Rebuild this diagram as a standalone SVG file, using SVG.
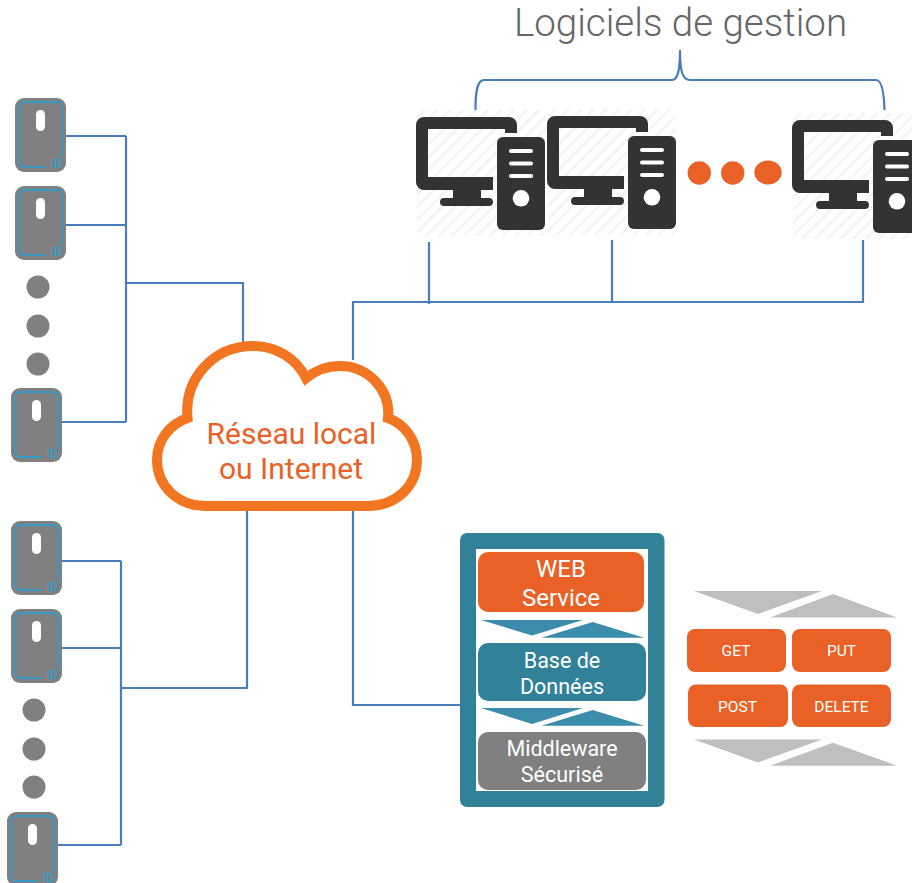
<svg xmlns="http://www.w3.org/2000/svg" width="912" height="883" viewBox="0 0 912 883">
<style>
text{font-family:Roboto,"Liberation Sans",sans-serif;text-anchor:middle}
.wire{fill:none;stroke:#4a7ebb;stroke-width:2.200}
.dev{fill:#808080}
.lt{fill:#fff}
.sl{font-size:21.500px;fill:#fff}
.btn{fill:#e96127}
.bt{font-size:15.500px;fill:#fff}
.cv{fill:#3b8dab}
.cg{fill:#bfbfbf}
.org{fill:#e96127}
.pc{fill:#333}
</style>
<defs>
<pattern id="hatch" width="9" height="9" patternUnits="userSpaceOnUse" patternTransform="rotate(-45)">
<rect width="9" height="9" fill="#fff"/><rect width="9" height="2.500" fill="#f3f3f3"/>
</pattern>
<g id="pcicon">
<rect x="1" y="-7" width="128" height="126" fill="url(#hatch)"/>
<path class="pc" fill-rule="evenodd" d="M8 0H93a8 8 0 0 1 8 8V16H89V12H12V60H77V73H65V81H73a4 4 0 0 1 0 8H28a4 4 0 0 1 0-8H37V73H8a8 8 0 0 1-8-8V8a8 8 0 0 1 8-8Z"/>
<rect class="pc" x="81" y="20" width="48" height="93" rx="6"/>
<rect class="lt" x="93" y="32" width="24" height="4" rx="2"/>
<rect class="lt" x="93" y="44.500" width="24" height="4" rx="2"/>
<rect class="lt" x="93" y="57" width="24" height="4" rx="2"/>
<circle class="lt" cx="105" cy="81.300" r="8.300"/>
</g>
<g id="devicon">
<rect class="dev" width="51" height="74" rx="9"/>
<path d="M30 69H9a5 5 0 0 1-5-5V9a5 5 0 0 1 5-5H42a5 5 0 0 1 5 5V60" fill="none" stroke="#1ca3dc" stroke-width="1.300"/>
<rect class="lt" x="21" y="12" width="9" height="21" rx="4.500"/>
<text x="41.500" y="70" font-size="12" fill="#1ca3dc">ID</text>
</g>
</defs>
<g id="connectors">
<path class="wire" d="M66 136H126M66 225H126M62 422H126M126 136V422M126 283H243V345"/>
<path class="wire" d="M62 561H121M62 648H121M57 845H121M121 561V845M121 688H247V510"/>
<path class="wire" d="M353 360V302H863V240M429 242V304M612 240V302"/>
<path class="wire" d="M353 510V705H460"/>
<path class="wire" d="M475.500 110C475.500 92 477 80 484 80H672C678 80 680 70 680 50C680 70 682 80 690 80H876C882 80 884 92 884.500 110"/>
</g>
<g id="title"><text x="680.500" y="36" font-size="38.500" font-weight="300" fill="#666">Logiciels de gestion</text></g>
<g id="pc1"><use href="#pcicon" x="416" y="117"/></g>
<g id="pc2"><use href="#pcicon" x="547" y="116"/></g>
<g id="pc3"><use href="#pcicon" x="792" y="120"/></g>
<g id="dots-pc">
<circle class="org" cx="699.300" cy="173" r="11.700"/>
<circle class="org" cx="732.700" cy="173" r="11.700"/>
<ellipse class="org" cx="768" cy="172.500" rx="13.700" ry="12"/>
</g>
<g id="dev1"><use href="#devicon" x="15" y="98"/></g>
<g id="dev2"><use href="#devicon" x="15" y="186"/></g>
<g id="dev3"><use href="#devicon" x="11" y="388"/></g>
<g id="dev4"><use href="#devicon" x="11" y="521"/></g>
<g id="dev5"><use href="#devicon" x="11" y="609"/></g>
<g id="dev6"><use href="#devicon" x="7" y="812"/></g>
<g id="dots-dev">
<circle class="dev" cx="38" cy="287" r="11.500"/>
<circle class="dev" cx="38" cy="326" r="11.500"/>
<circle class="dev" cx="38" cy="364" r="11.500"/>
<circle class="dev" cx="34" cy="710" r="11.500"/>
<circle class="dev" cx="34" cy="749" r="11.500"/>
<circle class="dev" cx="34" cy="787" r="11.500"/>
</g>
<g id="cloud">
<path d="M187.500 418C184 378 214 346 253 346C276 346 296 358 306 378C316 370 328 366 340 366C368 366 391 390 388 418C405 424 417 441 417 460C417 486 396 506 368 506H205C178 506 157 486 157 460C157 440 170 424 187.500 418Z" fill="#fff" stroke="#f27521" stroke-width="10"/>
<text x="291.500" y="444" font-size="30" fill="#e96127">Réseau local</text>
<text x="291" y="479" font-size="30" fill="#e96127">ou Internet</text>
</g>
<g id="server">
<rect x="460" y="533" width="204.500" height="274" rx="7" fill="#318298"/>
<rect class="lt" x="476" y="549" width="172" height="242"/>
<rect class="org" x="478" y="552" width="166" height="60" rx="10"/>
<text x="561" y="577" font-size="24" fill="#fff">WEB</text>
<text x="561" y="606" font-size="24" fill="#fff">Service</text>
<polygon class="cv" points="481,620 583,620 532,635.500"/>
<polygon class="cv" points="541.500,637.700 644,637.700 592.700,622"/>
<rect x="478" y="643" width="168" height="58" rx="10" fill="#318298"/>
<text class="sl" x="562" y="667.500">Base de</text>
<text class="sl" x="562" y="693.500">Données</text>
<polygon class="cv" points="481,708 583,708 532,724"/>
<polygon class="cv" points="541.500,725.700 644,725.700 592.700,710"/>
<rect class="dev" x="478" y="732" width="168" height="58" rx="10"/>
<text class="sl" x="562" y="756">Middleware</text>
<text class="sl" x="562" y="782">Sécurisé</text>
</g>
<g id="rest">
<polygon class="cg" points="694,591 822,591 758,614"/>
<polygon class="cg" points="770,617.500 897,617.500 833,594"/>
<rect class="btn" x="687" y="629" width="99" height="43" rx="8"/>
<text class="bt" x="736" y="656">GET</text>
<rect class="btn" x="792" y="629" width="99" height="43" rx="8"/>
<text class="bt" x="841.500" y="656">PUT</text>
<rect class="btn" x="688" y="684.500" width="100" height="42.500" rx="8"/>
<text class="bt" x="737.500" y="712">POST</text>
<rect class="btn" x="792" y="684.500" width="99" height="42.500" rx="8"/>
<text class="bt" x="841.500" y="712">DELETE</text>
<polygon class="cg" points="694,739.500 822,739.500 758,762.500"/>
<polygon class="cg" points="770,765.700 897,765.700 833,742.700"/>
</g>
</svg>
